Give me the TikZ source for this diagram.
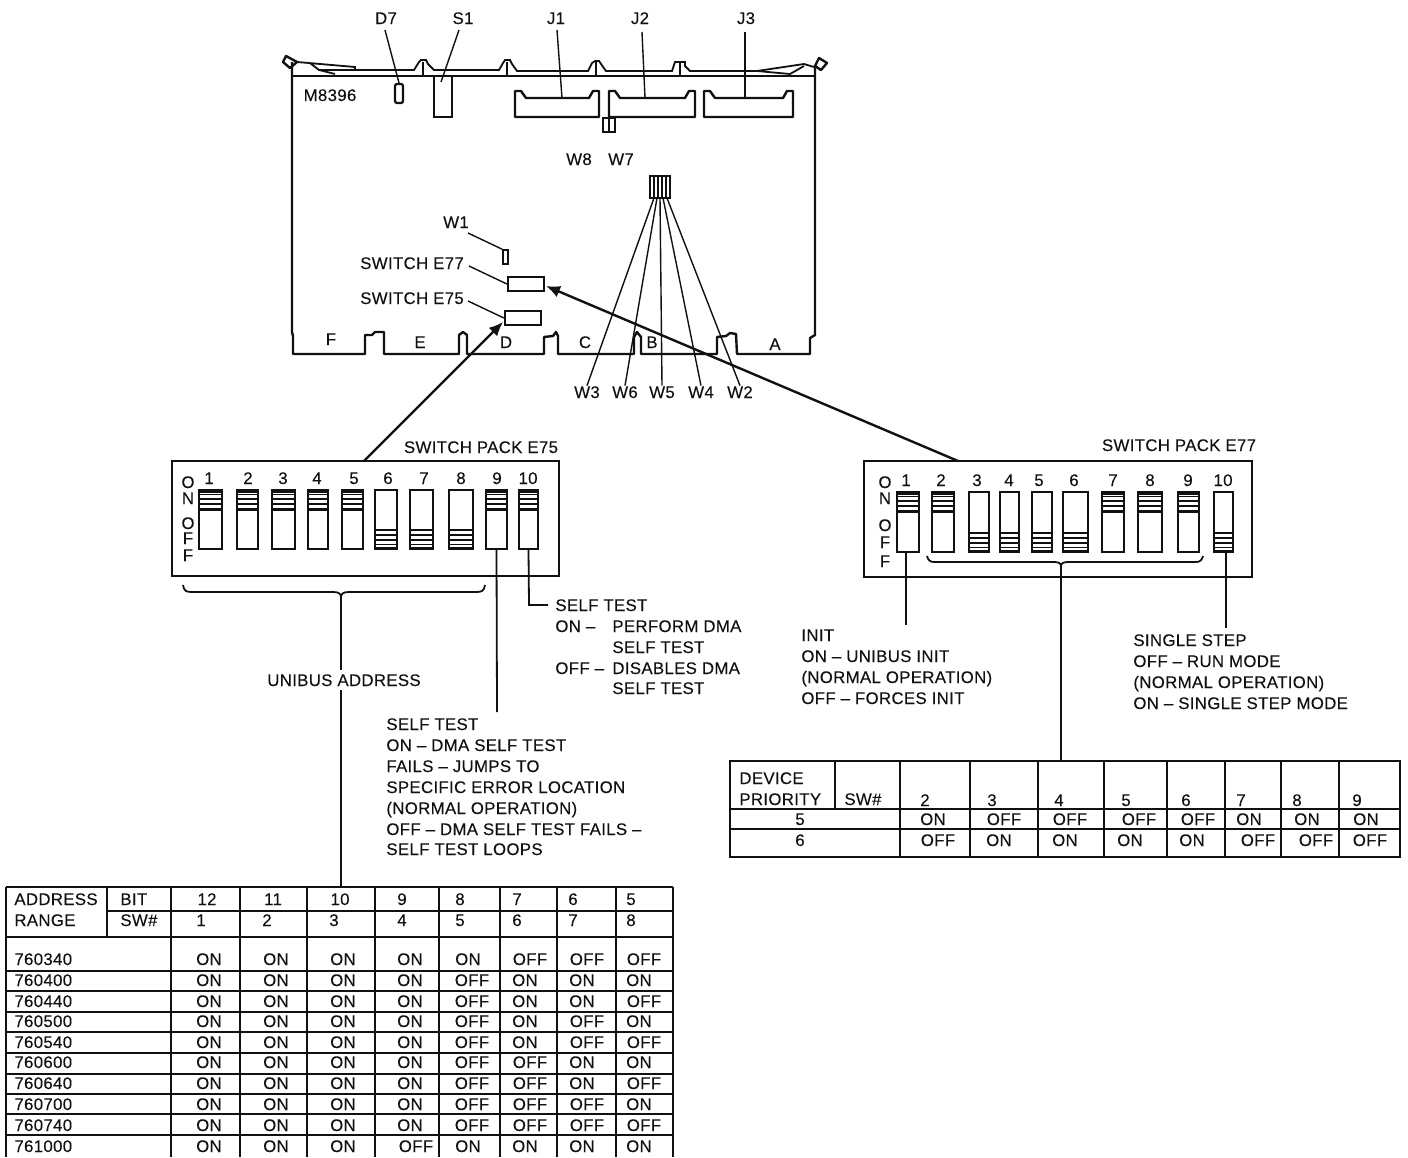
\documentclass[tikz,border=0pt]{standalone}
\usepackage{fontspec}
\setmainfont[LetterSpace=2.0,FakeBold=0.12]{Liberation Sans}
\usetikzlibrary{fit,arrows.meta}
\definecolor{ink}{HTML}{111111}
\tikzset{
  lbl/.style={inner sep=0pt,text height=6pt,text depth=0pt,text=ink,font=\fontsize{8.4}{9}\selectfont},
  tl/.style={lbl,anchor=west},
  bd/.style={draw=ink,line width=1.2pt,line join=round},
  thinl/.style={draw=ink,line width=0.6pt},
  lead/.style={draw=ink,line width=0.7pt},
  pack/.style={draw=ink,line width=1.4pt,inner sep=0pt},
  part/.style={draw=ink,line width=1.1pt,inner sep=0pt},
  swbox/.style={draw=ink,line width=1.1pt,inner sep=0pt},
  grid/.style={draw=ink,line width=0.95pt},
  bigarrow/.style={draw=ink,line width=1.2pt,-{Latex[length=7pt,width=6pt]}},
}
% name, x0, x1, y0, y1, state(1=on,0=off)
\newcommand\dipsw[6]{%
  \node[swbox,fit={(#2,#4) (#3,#5)}] (#1) {};
  \ifnum#6=1
    \foreach \d in {4.5,9,14,19}{\draw[thinl] (#2,#4+\d)--(#3,#4+\d);}
    \draw[thinl,line width=1pt] (#2,#4+19.5)--(#3,#4+19.5);
    \fill[ink] (#2,#4)rectangle(#3,#4+2.5);
  \else
    \foreach \d in {4.5,9,14,19}{\draw[thinl] (#2,#5-\d)--(#3,#5-\d);}
    \draw[thinl,line width=1pt] (#2,#5-19.5)--(#3,#5-19.5);
    \fill[ink] (#2,#5)rectangle(#3,#5-2.5);
  \fi
}
\newcommand\addrrow[3]{%
  \node[tl] (ad#1) at (14,#1) {#2};
  \foreach \s [count=\i from 0] in {#3}{%
    \pgfmathsetmacro\xx{\s*{209,276,343,410,468,525,582,639}[\i]+(1-\s)*{215,282,349,416,472,530,587,644}[\i]}
    \node[lbl] (c#1n\i) at (\xx,#1) {\ifnum\s=1 ON\else OFF\fi};
  }%
}
\newcommand\prirow[3]{%
  \node[lbl] (pr#1) at (800,#1) {#2};
  \foreach \s [count=\i from 0] in {#3}{%
    \pgfmathsetmacro\xx{\s*{933,999,1065,1130,1192,1249,1307,1366}[\i]+(1-\s)*{938,1004,1070,1139,1198,1258,1316,1370}[\i]}
    \node[lbl] (p#1n\i) at (\xx,#1) {\ifnum\s=1 ON\else OFF\fi};
  }%
}
\begin{document}
\begin{tikzpicture}[x=0.5pt,y=-0.5pt]
\useasboundingbox (0,0) rectangle (1408,1157);
\fill[white] (0,0) rectangle (1408,1157);

% ---- board outline
\draw[bd] (292,62)--(292,332)--(293,336)--(293,354)--(365,354)--(365,335)--(372,335)--(375,332)--(384,332)--(384,354)
  --(459,354)--(459,335)--(463,332)--(467,335)--(467,354)--(544,354)--(544,337)--(553,336)--(556,332)--(558,336)--(558,354)
  --(634,354)--(634,337)--(637,332)--(641,337)--(641,354)--(717,354)--(717,337)--(726,336)--(730,333)--(736,334)--(737,354)
  --(810,354)--(810,338)--(815,335)--(815,65);
\draw[bd] (292,76)--(815,76);
% top edge with ejectors
\draw[thinl,line width=0.9pt] (297,62)--(355,67)--(355,70)--(319,70)--(310,63);
\draw[thinl,line width=0.9pt] (355,70)--(414,70)--(419,62)--(421,60)--(426,60)--(428,64)--(434,70)--(499,70)--(503,63)--(505,60)--(510,60)--(512,64)--(517,71)
  --(588,71)--(592,63)--(595,61)--(599,61)--(601,64)--(606,71)--(672,71)--(675,62)--(685,62)--(685,66)--(690,71)--(757,71)--(804,64)--(814,67);
\draw[thinl,line width=0.9pt] (757,71)--(790,74)--(804,66);
\draw[thinl,line width=0.9pt] (319,70)--(335,74);
\draw[thinl,line width=0.9pt] (423,62)--(423,76) (507,62)--(507,76) (596,62)--(596,76) (680,62)--(680,76);
\draw[bd] (297,62)--(286,56)--(283,62)--(290,68)--(297,62);
\draw[bd] (815,66)--(819,58)--(827,63)--(821,70)--cycle;

% ---- parts on board
\node[lbl] (m8396) at (330,95) {M8396};
\node[part,fit={(395,84) (403,103)},rounded corners=1pt] (d7) {};
\node[part,fit={(434,76) (452,117)}] (s1) {};
\draw[bd] (515,91)--(521,91)--(526,98)--(589,98)--(593,91)--(599,91)--(599,117)--(515,117)--cycle;
\draw[bd] (609,91)--(615,91)--(620,98)--(685,98)--(689,91)--(695,91)--(695,117)--(609,117)--cycle;
\draw[bd] (704,91)--(710,91)--(715,98)--(783,98)--(787,91)--(793,91)--(793,117)--(704,117)--cycle;
\coordinate (j1c) at (562,98);
\coordinate (j2c) at (645,98);
\coordinate (j3c) at (745,98);
\node[part,fit={(603,118) (615,132)}] (w78) {};
\draw[thinl] (w78.north)--(w78.south);
\draw[thinl,line width=0.9pt] (609,117)--(w78.north);
\node[lbl] (w8) at (579,159) {W8};
\node[lbl] (w7) at (621,159) {W7};
\node[part,fit={(650,176) (670,198)}] (block) {};
\foreach \x in {654,658,662,666}{\draw[thinl] (\x,176)--(\x,198);}

\node[lbl] (w1l) at (456,222) {W1};
\node[part,fit={(503,250) (508,264)},line width=0.7pt] (w1) {};
\coordinate (w1a) at (468,233);
\draw[lead] (w1a)--(w1.north west);

\node[lbl] (e77l) at (412,263) {SWITCH E77};
\node[lbl] (e75l) at (412,298) {SWITCH E75};
\node[part,fit={(508,277) (544,291)}] (e77) {};
\node[part,fit={(505,311) (541,325)}] (e75) {};
\coordinate (e77a) at (469,266);
\coordinate (e75a) at (468,301);
\draw[lead] (e77a)--(e77.west);
\draw[lead] (e75a)--(e75.west);

% ---- board letters
\node[lbl] (lF) at (331,339) {F};
\node[lbl] (lE) at (420,342) {E};
\node[lbl] (lD) at (506,342) {D};
\node[lbl] (lC) at (585,342) {C};
\node[lbl] (lB) at (652,342) {B};
\node[lbl] (lA) at (775,344) {A};

% ---- top labels
\node[lbl] (td7) at (386,18) {D7};
\node[lbl] (ts1) at (463,18) {S1};
\node[lbl] (tj1) at (556,18) {J1};
\node[lbl] (tj2) at (640,18) {J2};
\node[lbl] (tj3) at (746,18) {J3};
\draw[lead] (385,30)--(d7.north);
\draw[lead] (459,30)--(441,82);
\draw[lead] (557,30)--(j1c);
\draw[lead] (642,32)--(j2c);
\draw[lead] (745,32)--(j3c);

% ---- wire labels
\node[lbl] (w3) at (587,392) {W3};
\node[lbl] (w6) at (625,392) {W6};
\node[lbl] (w5) at (662,392) {W5};
\node[lbl] (w4) at (701,392) {W4};
\node[lbl] (w2) at (740,392) {W2};
\coordinate (b3) at (654,198);
\coordinate (b6) at (657,198);
\coordinate (b5) at (660,198);
\coordinate (b4) at (663,198);
\coordinate (b2) at (667,198);
\draw[lead] (b3)--(w3.north);
\draw[lead] (b6)--(w6.north);
\draw[lead] (b5)--(w5.north);
\draw[lead] (b4)--(w4.north);
\draw[lead] (b2)--(w2.north);

% ---- switch pack E75
\node[lbl] (t75) at (481,447) {SWITCH PACK E75};
\node[pack,fit={(172,461) (559,576)}] (pk75) {};
\coordinate (pk75a) at (364,461);
\coordinate (e75tip) at (503,322);
\draw[bigarrow] (pk75a)--(e75tip);
\foreach \y/\c [count=\i] in {482/O,498/N,523/O,538/F,555/F}{\node[lbl] (a\i) at (188,\y) {\c};}
\foreach \x/\n in {209/1,248/2,283/3,317/4,354/5,388/6,424/7,461/8,497/9,528/10}{\node[lbl] (an\n) at (\x,478) {\n};}
\dipsw{a1s}{199}{222}{490}{549}{1}
\dipsw{a2s}{237}{258}{490}{549}{1}
\dipsw{a3s}{272}{295}{490}{549}{1}
\dipsw{a4s}{308}{328}{490}{549}{1}
\dipsw{a5s}{342}{363}{490}{549}{1}
\dipsw{a6s}{375}{397}{490}{549}{0}
\dipsw{a7s}{410}{433}{490}{549}{0}
\dipsw{a8s}{449}{473}{490}{549}{0}
\dipsw{a9s}{486}{507}{490}{549}{1}
\dipsw{a10s}{519}{538}{490}{549}{1}
\draw[lead,line width=0.9pt] (183,585) .. controls (184,591) and (186,592) .. (192,592)--(333,592) .. controls (339,592) and (341,594) .. (341,597) .. controls (341,594) and (343,592) .. (349,592)--(476,592) .. controls (482,592) and (484,591) .. (485,585);
\coordinate (br75) at (341,597);
\coordinate (tab1top) at (341,886);
\draw[lead,line width=0.9pt] (br75)--(tab1top);
\node[lbl,fill=white,inner xsep=2pt,inner ysep=2pt] (uni) at (344,680) {UNIBUS ADDRESS};
\coordinate (sw9end) at (497,712);
\draw[lead,line width=0.9pt] (a9s.south)--(sw9end);
\node[tl] (st1) at (555,605) {SELF TEST};
\coordinate (st1stub) at (548,605);
\draw[lead,line width=0.9pt] (a10s.south)--(529,605)--(st1stub);
\node[tl] (st2) at (555,626) {\makebox[28.5pt][l]{ON --}PERFORM DMA};
\node[tl] (st3) at (612,647) {SELF TEST};
\node[tl] (st4) at (555,668) {\makebox[28.5pt][l]{OFF --}DISABLES DMA};
\node[tl] (st5) at (612,688) {SELF TEST};

\node[tl] (sf1) at (386,724) {SELF TEST};
\node[tl] (sf2) at (386,745) {ON -- DMA SELF TEST};
\node[tl] (sf3) at (386,766) {FAILS -- JUMPS TO};
\node[tl] (sf4) at (386,787) {SPECIFIC ERROR LOCATION};
\node[tl] (sf5) at (386,808) {(NORMAL OPERATION)};
\node[tl] (sf6) at (386,829) {OFF -- DMA SELF TEST FAILS --};
\node[tl] (sf7) at (386,849) {SELF TEST LOOPS};

% ---- switch pack E77
\node[lbl] (t77) at (1179,445) {SWITCH PACK E77};
\node[pack,fit={(864,461) (1252,577)}] (pk77) {};
\coordinate (pk77a) at (958,461);
\coordinate (e77tip) at (546,286);
\draw[bigarrow] (pk77a)--(e77tip);
\foreach \y/\c [count=\i] in {482/O,498/N,525/O,542/F,561/F}{\node[lbl] (b\i) at (885,\y) {\c};}
\foreach \x/\n in {906/1,941/2,977/3,1009/4,1039/5,1074/6,1113/7,1150/8,1188/9,1223/10}{\node[lbl] (bn\n) at (\x,480) {\n};}
\dipsw{b1s}{897}{919}{492}{552}{1}
\dipsw{b2s}{932}{954}{492}{552}{1}
\dipsw{b3s}{969}{989}{492}{552}{0}
\dipsw{b4s}{1000}{1019}{492}{552}{0}
\dipsw{b5s}{1032}{1052}{492}{552}{0}
\dipsw{b6s}{1063}{1088}{492}{552}{0}
\dipsw{b7s}{1102}{1124}{492}{552}{1}
\dipsw{b8s}{1138}{1162}{492}{552}{1}
\dipsw{b9s}{1178}{1199}{492}{552}{1}
\dipsw{b10s}{1214}{1233}{492}{552}{0}
\draw[lead,line width=0.9pt] (927,556) .. controls (928,560) and (930,562) .. (934,562)--(1054,562) .. controls (1058,562) and (1061,563) .. (1061,566) .. controls (1061,563) and (1064,562) .. (1068,562)--(1196,562) .. controls (1200,562) and (1202,560) .. (1203,556);
\coordinate (br77) at (1061,566);
\coordinate (tab2top) at (1061,760);
\draw[lead,line width=0.9pt] (br77)--(tab2top);
\coordinate (init0) at (906,552);
\coordinate (initend) at (906,625);
\coordinate (step0) at (1226,552);
\coordinate (stepend) at (1226,628);
\draw[lead,line width=0.9pt] (init0)--(initend);
\draw[lead,line width=0.9pt] (step0)--(stepend);

\node[tl] (in1) at (801,635) {INIT};
\node[tl] (in2) at (801,656) {ON -- UNIBUS INIT};
\node[tl] (in3) at (801,677) {(NORMAL OPERATION)};
\node[tl] (in4) at (801,698) {OFF -- FORCES INIT};
\node[tl] (ss1) at (1133,640) {SINGLE STEP};
\node[tl] (ss2) at (1133,661) {OFF -- RUN MODE};
\node[tl] (ss3) at (1133,682) {(NORMAL OPERATION)};
\node[tl] (ss4) at (1133,703) {ON -- SINGLE STEP MODE};

% ---- address table
\draw[grid] (6,887)--(673,887);
\draw[grid] (107,911)--(673,911);
\draw[grid] (6,937)--(673,937);
\foreach \y in {971,991,1012,1032,1053,1074,1094,1114,1135}{\draw[grid] (6,\y)--(673,\y);}
\foreach \x in {6,171,240,307,375,439,500,557,616,673}{\draw[grid] (\x,887)--(\x,1157);}
\draw[grid] (107,887)--(107,937);
\node[tl] (hadr) at (14,899) {ADDRESS};
\node[tl] (hrng) at (14,920) {RANGE};
\node[tl] (hbit) at (120,899) {BIT};
\node[tl] (hsw) at (120,920) {SW\#};
\foreach \x/\a/\b in {207/12/1,273/11/2,340/10/3,402/9/4,460/8/5,517/7/6,573/6/7,631/5/8}{
  \node[lbl] (ha\a) at (\x,899) {\a};
  \node[lbl] (hb\b) at (\ifnum\a>9 \numexpr\x-6\relax\else\x\fi,920) {\b};
}
\addrrow{959}{760340}{1,1,1,1,1,0,0,0}
\addrrow{980}{760400}{1,1,1,1,0,1,1,1}
\addrrow{1001}{760440}{1,1,1,1,0,1,1,0}
\addrrow{1021}{760500}{1,1,1,1,0,1,0,1}
\addrrow{1042}{760540}{1,1,1,1,0,1,0,0}
\addrrow{1062}{760600}{1,1,1,1,0,0,1,1}
\addrrow{1083}{760640}{1,1,1,1,0,0,1,0}
\addrrow{1104}{760700}{1,1,1,1,0,0,0,1}
\addrrow{1125}{760740}{1,1,1,1,0,0,0,0}
\addrrow{1146}{761000}{1,1,1,0,1,1,1,1}

% ---- priority table
\draw[grid] (730,761) rectangle (1400,857);
\draw[grid] (730,809)--(1400,809);
\draw[grid] (730,829)--(1400,829);
\draw[grid] (835,761)--(835,809);
\foreach \x in {900,970,1038,1104,1167,1225,1281,1339}{\draw[grid] (\x,761)--(\x,857);}
\node[tl] (hdev) at (739,778) {DEVICE};
\node[tl] (hpri) at (739,799) {PRIORITY};
\node[tl] (hsw2) at (844,799) {SW\#};
\foreach \x/\n in {925/2,992/3,1059/4,1126/5,1186/6,1241/7,1297/8,1357/9}{\node[lbl] (ph\n) at (\x,800) {\n};}
\prirow{819}{5}{1,0,0,0,0,1,1,1}
\prirow{840}{6}{0,1,1,1,1,0,0,0}
\end{tikzpicture}
\end{document}
